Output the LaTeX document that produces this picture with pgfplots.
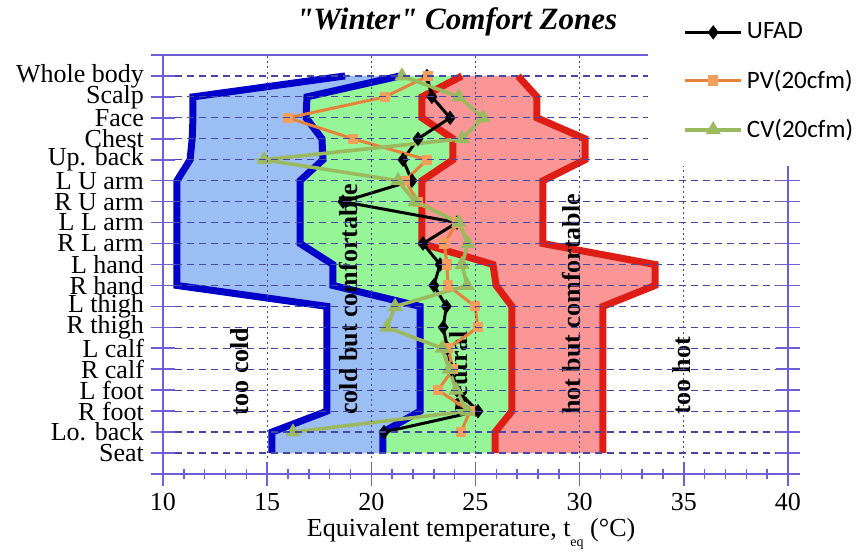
\documentclass[border=0pt]{standalone}
\usepackage{fontspec}
\setmainfont{Liberation Serif}
\newfontfamily\calib{Carlito}
\usepackage{pgfplots}
\pgfplotsset{compat=1.18}
\usepackage{pgfplotstable}
\usepgfplotslibrary{fillbetween}

\definecolor{axiscol}{RGB}{110,95,215}
\definecolor{gridcol}{RGB}{70,70,165}
\definecolor{zblue}{RGB}{0,0,200}
\definecolor{zred}{RGB}{222,30,20}
\definecolor{fblue}{RGB}{155,190,245}
\definecolor{fgreen}{RGB}{150,245,150}
\definecolor{fred}{RGB}{250,150,150}
\definecolor{pvline}{RGB}{230,130,60}
\definecolor{pvmark}{RGB}{245,160,90}
\definecolor{cvline}{RGB}{155,185,95}

% zone boundaries: too cold | cold but comf. | neutral | hot but comf. | too hot
\pgfplotstableread{
pos cold cool warm hot
18 18.74 21.38 24.35 27.04
17 11.44 16.91 22.43 27.95
16 11.44 16.87 22.43 27.95
15 11.40 17.63 23.92 30.26
14 11.30 17.68 23.92 30.26
13 10.67 16.58 22.43 28.24
12 10.67 16.58 22.43 28.24
11 10.67 16.58 22.43 28.24
10 10.67 16.58 22.43 28.24
9  10.67 18.16 25.84 33.62
8  10.67 18.16 25.99 33.62
7  17.87 22.34 26.75 31.12
6  17.87 22.34 26.75 31.12
5  17.87 22.34 26.75 31.12
4  17.87 22.34 26.75 31.12
3  17.87 22.34 26.75 31.12
2  17.87 22.34 26.75 31.12
1  15.23 20.56 25.94 31.12
0  15.23 20.56 25.94 31.12
}\zones

\pgfplotstableread{
pos UFAD PV CV
18 22.67 22.72 21.47
17 22.91 20.66 24.20
16 23.78 16.00 25.36
15 22.24 19.12 24.35
14 21.52 22.67 14.85
13 21.95 21.62 21.28
12 18.64 22.24 22.10
11 24.11 24.11 24.20
10 22.48 23.50 24.64
9  23.30 23.63 24.35
8  23.00 23.68 24.60
7  23.60 24.98 21.14
6  23.45 25.12 20.75
5  23.65 23.68 23.40
4  23.85 23.92 23.73
3  24.10 23.20 24.07
2  25.12 24.74 24.60
1  20.61 24.30 16.24
}\series

\begin{document}
\begin{tikzpicture}
\begin{axis}[
  set layers,
  at={(0pt,0pt)}, anchor=south west,
  scale only axis, width=312.5pt, height=209.5pt,
  xmin=10, xmax=40, ymin=-1, ymax=19,
  xtick={10,15,...,40}, minor x tick num=4,
  ytick={-1,0,...,19},
  yticklabels={{},Seat,Lo. back,R foot,L foot,R calf,L calf,R thigh,L thigh,R hand,L hand,R L arm,L L arm,R U arm,L U arm,Up. back,Chest,Face,Scalp,Whole body,{}},
  xtick pos=left, ytick pos=both, yticklabel pos=left,
  tick align=center, major tick length=12pt, minor tick length=5pt,
  axis line style={axiscol, line width=0.8pt},
  tick style={axiscol, line width=0.8pt},
  grid=major,
  x grid style={gridcol, line width=0.6pt, dash pattern=on 1pt off 1.6pt},
  y grid style={gridcol, line width=0.6pt, dash pattern=on 3.5pt off 2.5pt},
  axis on top,
  ticklabel style={font=\fontsize{13}{15}\selectfont},
  /pgf/number format/assume math mode=true,
  title={\textquotedbl Winter\textquotedbl\ Comfort Zones},
  title style={at={(0.47,1)}, anchor=center, yshift=10.5pt, font=\fontsize{15.5}{17}\selectfont\bfseries\itshape},
  xlabel={Equivalent temperature, t\raisebox{-0.8ex}{\scriptsize eq}\ (°C)},
  xlabel style={at={(0.493,0)}, anchor=base, yshift=-31.5pt, font=\fontsize{13}{15}\selectfont},
  legend style={at={(0.776,0.733)}, anchor=south west, draw=none, fill=white,
    inner xsep=17.5pt, inner ysep=11pt, row sep=10pt, cells={anchor=west},
    font=\calib\fontsize{12.5}{14}\selectfont},
  legend image code/.code={\draw[mark repeat=2,mark phase=2,#1] plot coordinates {(0pt,0pt) (14pt,0pt) (28pt,0pt)};},
]
% zone boundaries
\addplot[zblue, line width=3.5pt, name path=c1, forget plot] table[x=cold,y=pos]{\zones};
\addplot[zblue, line width=3.5pt, name path=c2, forget plot] table[x=cool,y=pos]{\zones};
\addplot[zred, line width=3.5pt, name path=c3, forget plot] table[x=warm,y=pos]{\zones};
\addplot[zred, line width=3.5pt, name path=c4, forget plot] table[x=hot,y=pos]{\zones};
\addplot[fblue, forget plot] fill between[of=c1 and c2, reverse=true];
\addplot[fgreen, forget plot] fill between[of=c2 and c3, reverse=true];
\addplot[fred, forget plot] fill between[of=c3 and c4, reverse=true];
% zone labels
\node[rotate=90, font=\fontsize{13}{15}\selectfont\bfseries] at (axis cs:13.7,3.9) {too cold};
\node[rotate=90, font=\fontsize{13}{15}\selectfont\bfseries] at (axis cs:18.9,7.35) {cold but comfortable};
\node[rotate=90, font=\fontsize{13}{15}\selectfont\bfseries] at (axis cs:24.2,3.9) {neutral};
\node[rotate=90, font=\fontsize{13}{15}\selectfont\bfseries] at (axis cs:29.6,7.1) {hot but comfortable};
\node[rotate=90, font=\fontsize{13}{15}\selectfont\bfseries] at (axis cs:34.9,3.7) {too hot};
% measured series
\addplot[black, line width=1.5pt, mark=diamond*, mark size=2.4pt, mark options={solid}] table[x=UFAD,y=pos]{\series};
\addlegendentry{UFAD}
\addplot[pvline, line width=1.5pt, mark=square*, mark size=1.8pt, mark options={solid, draw=pvmark, fill=pvmark}] table[x=PV,y=pos]{\series};
\addlegendentry{PV(20cfm)}
\addplot[cvline, line width=1.8pt, mark=triangle*, mark size=2.6pt, mark options={solid}] table[x=CV,y=pos]{\series};
\addlegendentry{CV(20cfm)}
\end{axis}
\pgfresetboundingbox
\path[use as bounding box] (-81.5pt,-40.5pt) rectangle (347.5pt,237pt);
\end{tikzpicture}
\end{document}
